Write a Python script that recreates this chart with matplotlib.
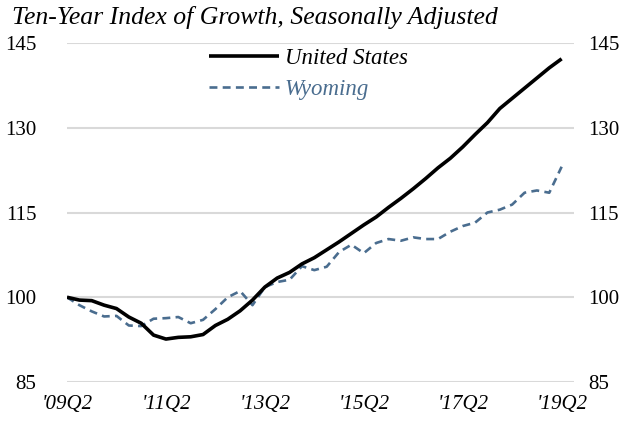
import numpy as np
import matplotlib
matplotlib.use("Agg")
import matplotlib.pyplot as plt


# quarterly index, 2009Q2 = 100
us_index = [
    100.0, 99.5, 99.4, 98.6, 98.0, 96.5, 95.4, 93.3, 92.6, 92.9,
    93.0, 93.4, 95.0, 96.1, 97.6, 99.5, 101.8, 103.4, 104.4, 105.9,
    107.0, 108.4, 109.8, 111.3, 112.8, 114.2, 115.9, 117.5, 119.2, 121.0,
    122.9, 124.6, 126.6, 128.8, 130.9, 133.4, 135.2, 137.0, 138.8, 140.6,
    142.2,
]
wy_index = [
    100.0, 98.6, 97.5, 96.6, 96.7, 95.0, 94.9, 96.2, 96.3, 96.5,
    95.4, 96.0, 97.9, 100.0, 101.1, 98.6, 101.8, 102.7, 103.1, 105.5,
    104.8, 105.4, 108.0, 109.3, 107.8, 109.6, 110.3, 110.0, 110.6, 110.3,
    110.3, 111.6, 112.6, 113.2, 115.0, 115.5, 116.4, 118.5, 118.9, 118.5,
    123.1,
]
x_tick_labels = ["'09Q2", "'11Q2", "'13Q2", "'15Q2", "'17Q2", "'19Q2"]
y_ticks = [85, 100, 115, 130, 145]

TITLE = "Ten-Year Index of Growth, Seasonally Adjusted"
US_COLOR = "black"
WY_COLOR = "#4a6d8f"
GRID_COLOR = "#d9d9d9"
SERIF = ["Liberation Serif", "DejaVu Serif"]

plt.rcParams["font.family"] = SERIF

fig = plt.figure(figsize=(6.27, 4.30), dpi=100)
ax = fig.add_axes([67 / 627, 1 - 382 / 430, 507 / 627, 339 / 430])

quarters = np.arange(len(us_index))
ax.plot(quarters, us_index, color=US_COLOR, lw=2.6, label="United States",
        solid_capstyle="butt", zorder=3)
ax.plot(quarters, wy_index, color=WY_COLOR, lw=1.9, dashes=(3, 2),
        label="Wyoming", zorder=2)

ax.set_xlim(0, 41)
ax.set_ylim(85, 145)
ax.set_yticks(y_ticks)
ax.set_yticklabels([str(v) for v in y_ticks], fontsize=15)
ax.set_xticks(quarters[::8])
ax.set_xticklabels(x_tick_labels, fontsize=15, style="italic")
ax.tick_params(axis="x", length=0, pad=9)
ax.tick_params(axis="y", length=0, pad=22)

ax.yaxis.grid(True, color=GRID_COLOR, lw=1.5)
ax.set_axisbelow(True)
for side in ["top", "right", "bottom", "left"]:
    ax.spines[side].set_visible(False)

# right-hand value axis, same scale, labels closer to the plot
ax_r = ax.twinx()
ax_r.set_ylim(ax.get_ylim())
ax_r.set_yticks(y_ticks)
ax_r.set_yticklabels([str(v) for v in y_ticks], fontsize=15)
ax_r.tick_params(axis="y", length=0, pad=10)
for side in ["top", "right", "bottom", "left"]:
    ax_r.spines[side].set_visible(False)

fig.text(12 / 627, 1 - 24 / 430, TITLE, fontsize=18.5, style="italic",
         ha="left", va="baseline")

leg = ax.legend(loc="upper left", bbox_to_anchor=(209 / 627, 1 - 48 / 430),
                bbox_transform=fig.transFigure, frameon=False,
                prop={"size": 16.5, "style": "italic"}, handlelength=3.05,
                handletextpad=0.25, labelspacing=0.42, borderpad=0,
                borderaxespad=0)
leg.get_texts()[1].set_color(WY_COLOR)

fig.savefig("out.png", dpi=100)
